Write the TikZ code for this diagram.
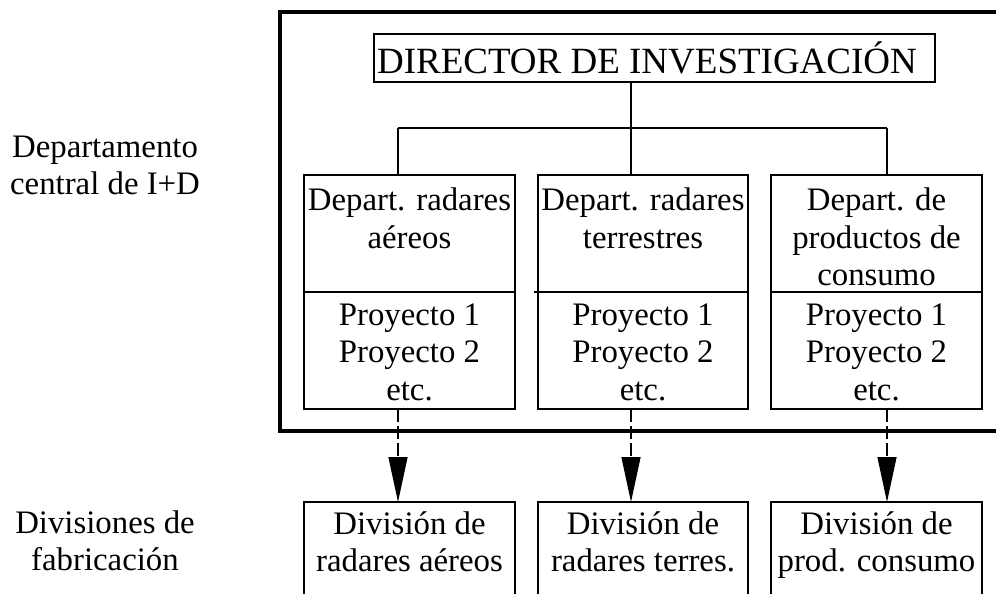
\documentclass[tikz,border=0pt]{standalone}
\usepackage{fontspec}
\setmainfont{Liberation Serif}
\usetikzlibrary{arrows.meta}
\begin{document}
\begin{tikzpicture}[x=1pt,y=-1pt,
  thinbox/.style={draw, line width=1.3pt, inner sep=0pt, outer sep=0pt},
  unitbox/.style={thinbox, minimum width=211pt, minimum height=234pt},
  divbox/.style={thinbox, minimum width=211pt, minimum height=200pt},
  frame/.style={draw, line width=3.4pt, inner sep=0pt, outer sep=0pt},
  txt/.style={font=\fontsize{32.8}{37.5}\selectfont, align=center, anchor=base, inner sep=0pt},
  dirtxt/.style={font=\fontsize{37}{44}\selectfont, anchor=base, inner sep=0pt},
  conn/.style={line width=1.3pt},
  dasharrow/.style={line width=1.3pt, dash pattern=on 13pt off 4pt, -{Triangle[length=45pt,width=19pt]}}]
\useasboundingbox (0,0) rectangle (996,594);
\clip (0,0) rectangle (996,594);
% outer frame
\node[frame, minimum width=730pt, minimum height=419pt] (frm) at (645,221.5) {};
% director
\node[thinbox, minimum width=561pt, minimum height=48pt] (dir) at (654.5,58) {};
\node[dirtxt] (dirt) at (647,73.5) {DIRECTOR DE INVESTIGACIÓN};
% department boxes
\node[unitbox] (d1) at (409.5,292) {};
\node[unitbox, minimum width=210pt] (d2) at (643,292) {};
\node[unitbox] (d3) at (876.5,292) {};
\draw[conn] (d1.west) -- (d1.east);
\draw[conn] ([xshift=-4pt]d2.west) -- (d2.east);
\draw[conn] (d3.west) -- (d3.east);
\node[txt] (d1a) at (409.5,248) {Depart. radares\\aéreos};
\node[txt] (d2a) at (643,248) {Depart. radares\\terrestres};
\node[txt] (d3a) at (876.5,285.5) {Depart. de\\productos de\\consumo};
\node[txt] (d1b) at (409.5,400) {Proyecto 1\\Proyecto 2\\etc.};
\node[txt] (d2b) at (643,400) {Proyecto 1\\Proyecto 2\\etc.};
\node[txt] (d3b) at (876.5,400) {Proyecto 1\\Proyecto 2\\etc.};
% tree connectors
\coordinate (h1) at (398,128);
\coordinate (h2) at (631,128);
\coordinate (h3) at (887,128);
\draw[conn] (h2 |- dir.south) -- (h2 |- d2.north);
\draw[conn] (h1) -- (h3);
\draw[conn] (h1) -- (h1 |- d1.north);
\draw[conn] (h3) -- (h3 |- d3.north);
% division boxes
\node[divbox] (v1) at (409.5,602) {};
\node[divbox, minimum width=210pt] (v2) at (643,602) {};
\node[divbox] (v3) at (876.5,602) {};
\node[txt] (v1t) at (409.5,571.5) {División de\\radares aéreos};
\node[txt] (v2t) at (643,571.5) {División de\\radares terres.};
\node[txt] (v3t) at (876.5,571.5) {División de\\prod. consumo};
% dashed arrows
\draw[dasharrow] (h1 |- d1.south) -- (h1 |- v1.north);
\draw[dasharrow] (h2 |- d2.south) -- (h2 |- v2.north);
\draw[dasharrow] (h3 |- d3.south) -- (h3 |- v3.north);
% left labels
\node[txt] (lab1) at (105,194.5) {Departamento\\central de I+D};
\node[txt] (lab2) at (105,570.5) {Divisiones de\\fabricación};
\end{tikzpicture}
\end{document}
